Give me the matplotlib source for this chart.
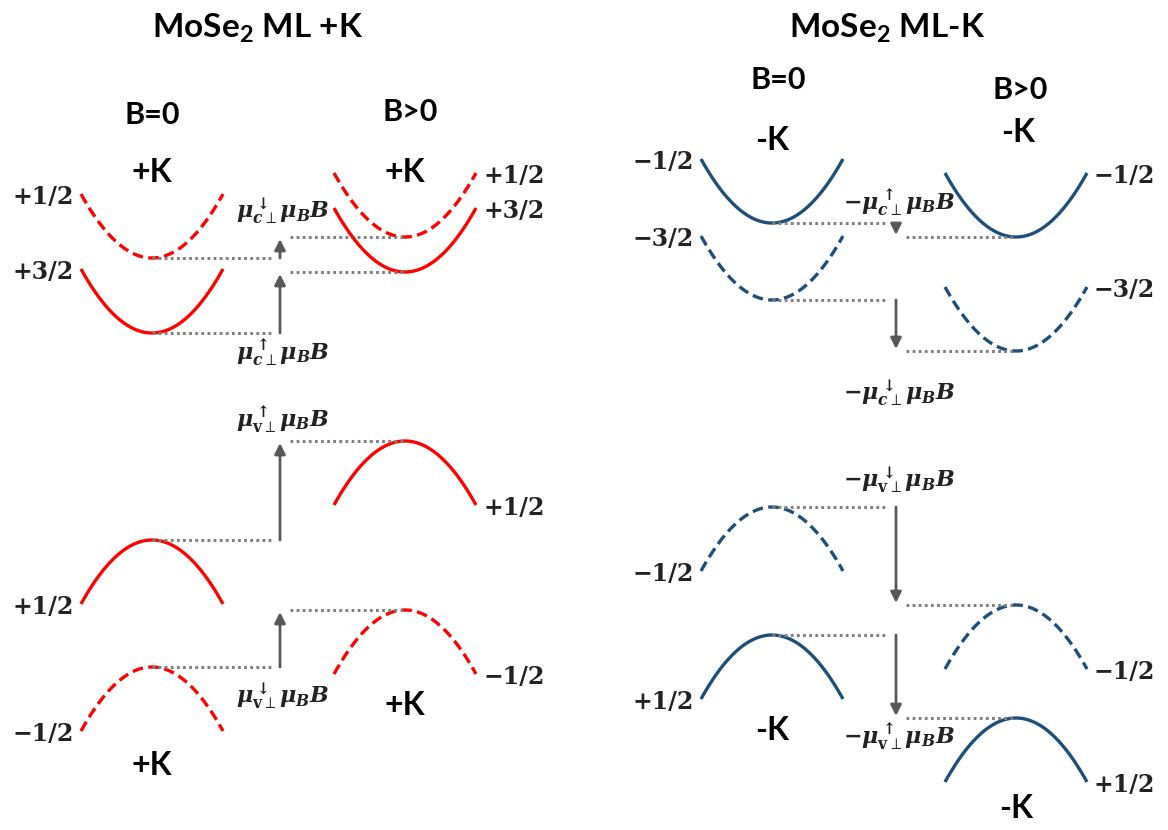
import numpy as np
import matplotlib.pyplot as plt

plt.rcParams['mathtext.fontset'] = 'custom'
plt.rcParams['mathtext.rm'] = 'DejaVu Serif:bold'
plt.rcParams['mathtext.it'] = 'DejaVu Serif:italic:bold'
plt.rcParams['mathtext.bf'] = 'DejaVu Serif:bold'
plt.rcParams['mathtext.sf'] = 'Lato:bold'

HEAD = ['Lato', 'DejaVu Sans']
SERIF = ['DejaVu Serif']

# band edge levels (y measured downward from the top), order:
# upper conduction, lower conduction, upper valence, lower valence
band_kind = ['c', 'c', 'v', 'v']

plusK_spin = ['+1/2', '+3/2', '+1/2', '−1/2']
plusK_B0 = [258, 333, 540, 667]
plusK_Bpos = [237, 272, 441, 610]
plusK_dashed = [True, False, False, True]
plusK_shift = [r'$\mu_{c\perp}^{\downarrow}\mu_B B$', r'$\mu_{c\perp}^{\uparrow}\mu_B B$',
               r'$\mu_{\mathrm{v}\perp}^{\uparrow}\mu_B B$', r'$\mu_{\mathrm{v}\perp}^{\downarrow}\mu_B B$']

minusK_spin = ['−1/2', '−3/2', '−1/2', '+1/2']
minusK_B0 = [223, 300, 507, 635]
minusK_Bpos = [237, 351, 605, 718]
minusK_dashed = [False, True, True, False]
minusK_shift = [r'$-\mu_{c\perp}^{\uparrow}\mu_B B$', r'$-\mu_{c\perp}^{\downarrow}\mu_B B$',
                r'$-\mu_{\mathrm{v}\perp}^{\downarrow}\mu_B B$', r'$-\mu_{\mathrm{v}\perp}^{\uparrow}\mu_B B$']

RED = '#ff0000'
BLUE = '#1f4e79'
GREY = '#7f7f7f'
ARROW = '#595959'
HW = 71      # half width of a band
DEPTH = 64   # band curvature height

fig = plt.figure(figsize=(11.68, 8.30), dpi=100)
ax = fig.add_axes([0, 0, 1, 1])
ax.set_xlim(0, 1168)
ax.set_ylim(830, 0)
ax.axis('off')


def band(xc, y0, kind, dashed, color):
    t = np.linspace(-1, 1, 100)
    if kind == 'c':
        y = y0 - DEPTH * t ** 2
    else:
        y = y0 + DEPTH * t ** 2
    ls = (0, (3.2, 1.6)) if dashed else '-'
    ax.plot(xc + HW * t, y, color=color, lw=2.4, ls=ls, solid_capstyle='butt')
    return y0 - DEPTH if kind == 'c' else y0 + DEPTH


def panel(x0, x1, xa, spins, lv0, lv1, dashed, shifts, color, lab_y):
    for i in range(4):
        e0 = band(x0, lv0[i], band_kind[i], dashed[i], color)
        e1 = band(x1, lv1[i], band_kind[i], dashed[i], color)
        ax.text(x0 - HW - 7, e0 + 3, spins[i], family=SERIF, fontsize=17,
                fontweight='bold', ha='right', va='center', color='#222222')
        ax.text(x1 + HW + 7, e1 + 3, spins[i], family=SERIF, fontsize=17,
                fontweight='bold', ha='left', va='center', color='#222222')
        # level shift: dotted guides and arrow
        ax.plot([x0, xa - 8], [lv0[i], lv0[i]], color=GREY, lw=2.2, ls=(0, (0.9, 1.1)))
        ax.plot([xa + 10, x1], [lv1[i], lv1[i]], color=GREY, lw=2.2, ls=(0, (0.9, 1.1)))
        ax.annotate('', xy=(xa, lv1[i] + (2 if lv1[i] < lv0[i] else -2)), xytext=(xa, lv0[i]),
                    arrowprops=dict(arrowstyle='-|>', color=ARROW, lw=2,
                                    mutation_scale=16, shrinkA=0, shrinkB=0))
    for i in range(4):
        ax.text(xa + 3, lab_y[i], shifts[i], fontsize=16, ha='center', va='center',
                color='#222222')


panel(152, 405, 280, plusK_spin, plusK_B0, plusK_Bpos, plusK_dashed, plusK_shift, RED,
      [212, 353, 420, 697])
panel(772, 1016, 896, minusK_spin, minusK_B0, minusK_Bpos, minusK_dashed, minusK_shift, BLUE,
      [203, 394, 481, 737])

# headings
hd = dict(family=HEAD, fontweight='bold', ha='center', va='center', color='black')
ax.text(258, 28, r'MoSe$_\mathsf{2}$ ML +K', fontsize=24, **hd)
ax.text(887, 28, r'MoSe$_\mathsf{2}$ ML-K', fontsize=24, **hd)
ax.text(152, 115, 'B=0', fontsize=22, **hd)
ax.text(410, 112, 'B>0', fontsize=22, **hd)
ax.text(152, 172, '+K', fontsize=23, **hd)
ax.text(405, 172, '+K', fontsize=23, **hd)
ax.text(152, 765, '+K', fontsize=23, **hd)
ax.text(405, 705, '+K', fontsize=23, **hd)
ax.text(778, 80, 'B=0', fontsize=22, **hd)
ax.text(1020, 90, 'B>0', fontsize=22, **hd)
ax.text(772, 140, '-K', fontsize=23, **hd)
ax.text(1018, 132, '-K', fontsize=23, **hd)
ax.text(772, 730, '-K', fontsize=23, **hd)
ax.text(1016, 808, '-K', fontsize=23, **hd)

fig.savefig('out.png', dpi=100)
